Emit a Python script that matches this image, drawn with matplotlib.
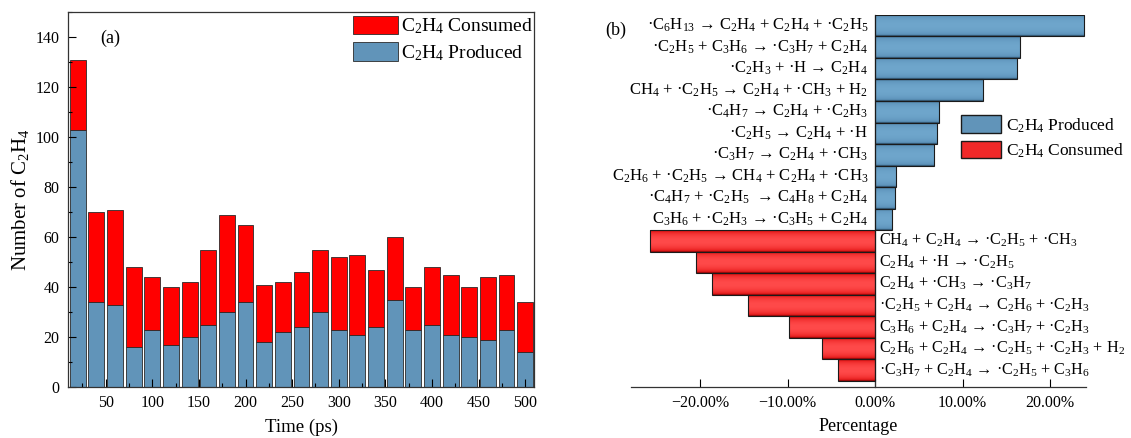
import numpy as np
import matplotlib
matplotlib.use('Agg')
import matplotlib.pyplot as plt
from matplotlib.colors import LinearSegmentedColormap
from matplotlib.patches import Patch
from matplotlib.ticker import MultipleLocator, FuncFormatter

plt.rcParams['font.family'] = 'Liberation Serif'
plt.rcParams['mathtext.fontset'] = 'custom'
plt.rcParams['mathtext.rm'] = 'Liberation Serif'
plt.rcParams['mathtext.it'] = 'Liberation Serif:italic'
plt.rcParams['mathtext.bf'] = 'Liberation Serif:bold'

# (a) C2H4 counts per 20 ps window
TIME = [20, 40, 60, 80, 100, 120, 140, 160, 180, 200, 220, 240, 260,
        280, 300, 320, 340, 360, 380, 400, 420, 440, 460, 480, 500]
PRODUCED = [103, 34, 33, 16, 23, 17, 20, 25, 30, 34, 18, 22, 24,
            30, 23, 21, 24, 35, 23, 25, 21, 20, 19, 23, 14]
CONSUMED = [28, 36, 38, 32, 21, 23, 22, 30, 39, 31, 23, 20, 22,
            25, 29, 32, 23, 25, 17, 23, 24, 20, 25, 22, 20]

# (b) reaction contributions (%)
PROD_RXN = [
    r'·C$_6$H$_{13}$ → C$_2$H$_4$ + C$_2$H$_4$ + ·C$_2$H$_5$',
    r'·C$_2$H$_5$ + C$_3$H$_6$ → ·C$_3$H$_7$ + C$_2$H$_4$',
    r'·C$_2$H$_3$ + ·H → C$_2$H$_4$',
    r'CH$_4$ + ·C$_2$H$_5$ → C$_2$H$_4$ + ·CH$_3$ + H$_2$',
    r'·C$_4$H$_7$ → C$_2$H$_4$ + ·C$_2$H$_3$',
    r'·C$_2$H$_5$ → C$_2$H$_4$ + ·H',
    r'·C$_3$H$_7$ → C$_2$H$_4$ + ·CH$_3$',
    r'C$_2$H$_6$ + ·C$_2$H$_5$ → CH$_4$ + C$_2$H$_4$ + ·CH$_3$',
    r'·C$_4$H$_7$ + ·C$_2$H$_5$  → C$_4$H$_8$ + C$_2$H$_4$',
    r'C$_3$H$_6$ + ·C$_2$H$_3$ → ·C$_3$H$_5$ + C$_2$H$_4$',
]
PROD_PCT = [23.9, 16.5, 16.2, 12.3, 7.35, 7.05, 6.75, 2.35, 2.3, 1.95]
CONS_RXN = [
    r'CH$_4$ + C$_2$H$_4$ → ·C$_2$H$_5$ + ·CH$_3$',
    r'C$_2$H$_4$ + ·H → ·C$_2$H$_5$',
    r'C$_2$H$_4$ + ·CH$_3$ → ·C$_3$H$_7$',
    r'·C$_2$H$_5$ + C$_2$H$_4$ → C$_2$H$_6$ + ·C$_2$H$_3$',
    r'C$_3$H$_6$ + C$_2$H$_4$ → ·C$_3$H$_7$ + ·C$_2$H$_3$',
    r'C$_2$H$_6$ + C$_2$H$_4$ → ·C$_2$H$_5$ + ·C$_2$H$_3$ + H$_2$',
    r'·C$_3$H$_7$ + C$_2$H$_4$ → ·C$_2$H$_5$ + C$_3$H$_6$',
]
CONS_PCT = [-25.7, -20.5, -18.7, -14.5, -9.8, -6.1, -4.2]

BLUE = '#6194b9'
RED = '#ff0000'
blue_cmap = LinearSegmentedColormap.from_list('b', ['#1e3a50', '#5d93ba', '#6fa6cc'])
red_cmap = LinearSegmentedColormap.from_list('r', ['#6e0000', '#e81e1e', '#ff4a4a'])


def shaded_barh(ax, ys, widths, cmap):
    bars = ax.barh(ys, widths, height=1.0, facecolor='none',
                   edgecolor='#1a1a1a', linewidth=0.8, zorder=3)
    prof = np.sin(np.linspace(0, np.pi, 64)) ** 0.45
    for b in bars:
        x0, y0, w, h = b.get_x(), b.get_y(), b.get_width(), b.get_height()
        im = ax.imshow(prof[:, None], cmap=cmap, vmin=0, vmax=1, aspect='auto',
                       extent=(x0, x0 + w, y0 + h, y0),
                       interpolation='bilinear', zorder=2)
        im.set_clip_path(b)
    return bars


fig = plt.figure(figsize=(11.31, 4.38), dpi=100)

# ---- panel (a)
ax = fig.add_axes([0.0601, 0.1164, 0.4121, 0.8562])
ax.bar(TIME, PRODUCED, width=17, color=BLUE, edgecolor='#2b2b2b',
       linewidth=0.6, label='C$_2$H$_4$ Produced')
ax.bar(TIME, CONSUMED, width=17, bottom=PRODUCED, color=RED,
       edgecolor='#2b2b2b', linewidth=0.6, label='C$_2$H$_4$ Consumed')
ax.set_xlim(9.5, 509.5)
ax.set_ylim(0, 150)
ax.set_xticks(range(50, 501, 50))
ax.set_yticks(range(0, 141, 20))
ax.xaxis.set_minor_locator(MultipleLocator(25))
ax.yaxis.set_minor_locator(MultipleLocator(10))
ax.tick_params(which='both', direction='in', labelsize=11.5, width=0.8,
               top=False, right=False, pad=6)
ax.tick_params(which='major', length=6)
ax.tick_params(which='minor', length=3)
for s in ax.spines.values():
    s.set_color('#333333')
    s.set_linewidth(0.9)
ax.set_xlabel('Time (ps)', fontsize=13.5, labelpad=5)
ax.set_ylabel('Number of C$_2$H$_4$', fontsize=15, labelpad=3)
ax.text(0.07, 0.93, '(a)', transform=ax.transAxes, fontsize=13,
        ha='left', va='center')
h, l = ax.get_legend_handles_labels()
ax.legend(h[::-1], l[::-1], loc='upper left', bbox_to_anchor=(0.612, 0.99),
          frameon=False, fontsize=14, handlelength=2.3, handleheight=1.1,
          handletextpad=0.15, labelspacing=0.3, borderpad=0, borderaxespad=0)

# ---- panel (b)
bx = fig.add_axes([0.558, 0.1164, 0.4022, 0.8494])
n_p = len(PROD_PCT)
shaded_barh(bx, range(n_p), PROD_PCT, blue_cmap)
shaded_barh(bx, range(n_p, n_p + len(CONS_PCT)), CONS_PCT, red_cmap)
for i, lab in enumerate(PROD_RXN):
    bx.annotate(lab, xy=(0, i), xytext=(-5, 0), textcoords='offset points',
                ha='right', va='center', fontsize=12)
for i, lab in enumerate(CONS_RXN):
    bx.annotate(lab, xy=(0, n_p + i), xytext=(3, 0), textcoords='offset points',
                ha='left', va='center', fontsize=11.7)
bx.set_xlim(-27.9, 24.1)
bx.set_ylim(16.8, -0.5)
bx.set_xticks([-20, -10, 0, 10, 20])
bx.xaxis.set_major_formatter(FuncFormatter(
    lambda v, p: f'{v:.2f}%'.replace('-', '\u2212')))
bx.set_yticks([])
bx.spines['top'].set_visible(False)
bx.spines['right'].set_visible(False)
bx.spines['left'].set_position(('data', 0))
for s in ('left', 'bottom'):
    bx.spines[s].set_color('#333333')
    bx.spines[s].set_linewidth(0.9)
bx.tick_params(axis='x', direction='in', length=6, width=0.8,
               labelsize=11.5, pad=6)
bx.set_xlabel('Percentage', fontsize=13, labelpad=5)
bx.legend([Patch(facecolor=BLUE, edgecolor='#1a1a1a'),
           Patch(facecolor='#f02828', edgecolor='#1a1a1a')],
          ['C$_2$H$_4$ Produced', 'C$_2$H$_4$ Consumed'],
          loc='upper left', bbox_to_anchor=(0.725, 0.73), frameon=False,
          fontsize=12.5, handlelength=2.3, handleheight=1.2,
          handletextpad=0.3, labelspacing=0.35, borderpad=0, borderaxespad=0)
fig.text(605 / 1131, 1 - 30 / 438, '(b)', fontsize=13, ha='left', va='center')

fig.savefig('out.png', dpi=100)
